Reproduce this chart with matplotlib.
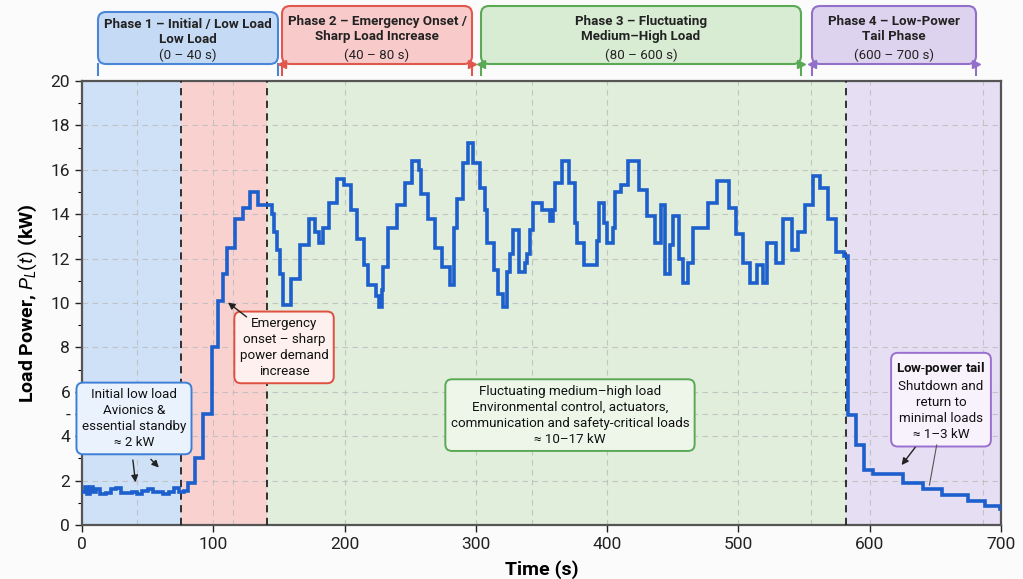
import matplotlib
matplotlib.use("Agg")
import matplotlib.pyplot as plt
from matplotlib import font_manager
from matplotlib.patches import FancyBboxPatch
from matplotlib.transforms import IdentityTransform
import numpy as np

# ---------------- data ----------------
time_s = [0, 2, 4, 6, 8, 11, 14, 18, 22, 26, 30, 34, 38, 42, 46, 50, 54, 58, 62, 66, 70, 74, 78,
          80.7, 86.1, 92.2, 99.0, 103.6, 107.4, 110.4, 116.5, 122.6, 128.0, 134.1, 144.7,
          146.5, 148.5, 150.8, 153.1, 159.2, 166.1, 172.9, 177.5, 180.5, 183.6, 188.1, 194.2,
          199.6, 204.9, 209.5, 214.8, 217.8, 223.9, 226.2, 228.5, 229.3, 233.1, 239.9, 246.0,
          251.4, 256.7, 258.2, 263.5, 268.9, 274.2, 280.3, 283.3, 285.6, 290.2, 294.0, 297.8,
          303.2, 307.0, 308.5, 313.8, 316.9, 320.7, 323.7, 326.0, 328.3, 332.9, 337.4, 339.0,
          341.2, 343.5, 350.4, 356.5, 358.8, 360.3, 365.6, 370.9, 375.5, 377.0, 382.4, 392.3,
          393.8, 397.6, 399.9, 404.5, 406.0, 410.6, 415.9, 424.3, 430.4, 436.5, 441.0, 444.1,
          447.9, 450.2, 454.7, 457.8, 461.6, 465.4, 476.8, 483.7, 492.8, 498.2, 503.5, 508.8,
          514.1, 518.7, 521.8, 528.6, 534.0, 540.8, 545.4, 550.7, 556.8, 562.1, 568.2, 574.3,
          580.4, 583.5, 589.6, 595.6, 602.5, 625.4, 640.6, 655.1, 674.9, 687.8, 699.0, 700.0]
load_kw = [1.5, 1.7, 1.4, 1.7, 1.5, 1.6, 1.4, 1.45, 1.6, 1.65, 1.45, 1.45, 1.5, 1.4, 1.55, 1.6, 1.5, 1.5, 1.4, 1.5, 1.65, 1.5, 1.55,
           1.9, 3.0, 5.0, 8.0, 10.1, 11.3, 12.5, 13.8, 14.3, 15.0, 14.4, 14.0,
           13.2, 12.4, 11.3, 9.9, 11.1, 12.6, 13.8, 13.2, 12.7, 13.4, 14.5, 15.6,
           15.3, 14.2, 12.9, 11.7, 10.8, 10.3, 9.8, 10.6, 11.6, 13.4, 14.4, 15.4,
           16.4, 16.0, 14.9, 13.8, 12.5, 11.6, 10.8, 13.4, 14.7, 16.3, 17.2, 16.3,
           15.2, 14.2, 12.7, 11.5, 10.4, 9.8, 11.4, 12.2, 13.3, 11.4, 11.8, 12.2,
           13.3, 14.5, 14.2, 13.7, 14.2, 15.4, 16.4, 15.4, 13.6, 12.7, 11.7, 12.8,
           14.5, 13.6, 12.7, 13.4, 15.0, 15.3, 16.4, 15.1, 13.9, 12.7, 14.4, 11.3,
           12.6, 13.9, 12.0, 10.9, 11.8, 13.4, 14.5, 15.5, 14.3, 13.1, 11.8, 10.9,
           11.7, 10.9, 12.7, 11.8, 13.8, 12.4, 13.2, 14.4, 15.7, 15.2, 13.8, 12.3,
           12.1, 4.95, 3.6, 2.5, 2.3, 1.9, 1.6, 1.35, 1.1, 0.85, 0.7, 0.7]

phase_edges = [0, 75.4, 141.0, 582.0, 700]
phase_bg = ["#cfe1f7", "#f9d2d0", "#e0eedb", "#e6def2"]
phase_box_fill = ["#c5dbf5", "#f8cbca", "#d8ebd3", "#ded3ef"]
phase_box_edge = ["#4a86d8", "#e0574d", "#5aa955", "#9270c9"]
phase_titles = ["Phase 1 – Initial / Low Load\nLow Load",
                "Phase 2 – Emergency Onset /\nSharp Load Increase",
                "Phase 3 – Fluctuating\nMedium–High Load",
                "Phase 4 – Low-Power\nTail Phase"]
phase_ranges = ["(0 – 40 s)", "(40 – 80 s)", "(80 – 600 s)", "(600 – 700 s)"]

x_ticks = [0, 100, 200, 300, 400, 500, 600, 700]
y_ticks = [0, 2, 4, 5, 6, 8, 10, 12, 14, 16, 18, 20]
y_tick_labels = ["0", "2", "4", "-", "6", "8", "10", "12", "14", "16", "18", "20"]
extra_vgrid = [42, 115, 343, 555, 686]

# ---------------- fonts ----------------
avail = {f.name for f in font_manager.fontManager.ttflist}
base = "Liberation Sans Narrow" if "Liberation Sans Narrow" in avail else "Roboto"
plt.rcParams['font.family'] = [base, 'DejaVu Sans']
plt.rcParams['mathtext.fontset'] = 'custom'
plt.rcParams['mathtext.rm'] = base
plt.rcParams['mathtext.it'] = base + ':italic'
plt.rcParams['mathtext.bf'] = base + ':bold'

W, H = 1023, 579
fig = plt.figure(figsize=(W / 100, H / 100), dpi=100, facecolor="#fbfbfb")
ax = fig.add_axes([82 / W, (H - 525) / H, (1001 - 82) / W, (525 - 81) / H])
ax.set_facecolor("white")

for i in range(4):
    ax.axvspan(phase_edges[i], phase_edges[i + 1], color=phase_bg[i], lw=0, zorder=0)
for e in phase_edges[1:4]:
    ax.axvline(e, color="#222222", ls=(0, (4, 3)), lw=1.3, zorder=3)

ax.set_xlim(0, 700)
ax.set_ylim(0, 20)
ax.set_xticks(x_ticks)
ax.set_yticks(y_ticks)
ax.set_yticklabels(y_tick_labels)
ax.set_yticks(np.arange(1, 20, 2), minor=True)
ax.tick_params(axis="both", labelsize=12.5, colors="#222222", length=5, width=1.0)
ax.tick_params(axis="y", which="minor", length=3, width=0.8)
ax.grid(True, which="major", ls=(0, (5, 4)), color="#bbbbbb", lw=0.8, alpha=0.8, zorder=1)
for g in extra_vgrid:
    ax.axvline(g, ls=(0, (5, 4)), color="#bbbbbb", lw=0.8, alpha=0.8, zorder=1)
ax.set_axisbelow(True)
for s in ax.spines.values():
    s.set_color("#555555")
    s.set_linewidth(1.6)

ax.plot(time_s, load_kw, drawstyle="steps-post", color="#1d5fcc", lw=2.6, zorder=4,
        solid_joinstyle="miter")

ax.set_xlabel("Time (s)", fontsize=14, fontweight="bold", labelpad=6)
ax.set_ylabel(r"Load Power, $P_L(t)$ (kW)", fontsize=14, fontweight="bold", labelpad=8)

# ---------------- annotations ----------------
def box(fc, ec):
    return dict(boxstyle="round,pad=0.4,rounding_size=0.5", fc=fc, ec=ec, lw=1.4)

FS = 9.6
ax.text(39.6, 4.8, "Initial low load\nAvionics &\nessential standby\n≈ 2 kW", ha="center", va="center",
        fontsize=FS, color="#111111", bbox=box("#eaf3fd", "#3d7fd6"), zorder=6, linespacing=1.3)
ax.annotate("", xy=(41, 1.8), xytext=(38.5, 3.05),
            arrowprops=dict(arrowstyle="-|>", color="#222222", lw=1.0, mutation_scale=10), zorder=6)
ax.annotate("", xy=(60, 2.5), xytext=(51, 3.05),
            arrowprops=dict(arrowstyle="-|>", color="#222222", lw=1.0, mutation_scale=10), zorder=6)

ax.text(153.9, 8.0, "Emergency\nonset – sharp\npower demand\nincrease", ha="center", va="center",
        fontsize=FS, color="#111111", bbox=box("#fdf0ee", "#e0503f"), zorder=6, linespacing=1.3)
ax.annotate("", xy=(109.5, 10.1), xytext=(127, 9.3),
            arrowprops=dict(arrowstyle="-|>", color="#222222", lw=1.0, mutation_scale=10), zorder=6)

ax.text(371.7, 4.95, "Fluctuating medium–high load\nEnvironmental control, actuators,\ncommunication and safety-critical loads\n≈ 10–17 kW",
        ha="center", va="center", fontsize=FS, color="#111111", bbox=box("#eef6ea", "#5aa955"),
        zorder=6, linespacing=1.3)

ax.text(654.3, 5.6, r"$\mathbf{Low\text{-}power\ tail}$" + "\nShutdown and\nreturn to\nminimal loads\n≈ 1–3 kW",
        ha="center", va="center",
        fontsize=FS, color="#111111", bbox=box("#f7f2fc", "#9a6fcf"), zorder=6, linespacing=1.3)
ax.annotate("", xy=(623, 2.6), xytext=(636, 3.6),
            arrowprops=dict(arrowstyle="-|>", color="#222222", lw=1.0, mutation_scale=10), zorder=6)
ax.plot([651, 645.5], [3.6, 1.8], color="#555555", lw=0.8, zorder=6)

# ---------------- phase header boxes (figure pixels) ----------------
T = IdentityTransform()
box_px = [(98, 278, 12), (282, 472, 6), (481, 801, 6), (812, 976, 6)]
bottom_px = 64
for i, (x0, x1, top) in enumerate(box_px):
    y0 = H - bottom_px
    y1 = H - top
    p = FancyBboxPatch((x0, y0), x1 - x0, y1 - y0, boxstyle="round,pad=0,rounding_size=8",
                       transform=T, fc=phase_box_fill[i], ec=phase_box_edge[i], lw=1.5, zorder=1)
    fig.patches.append(p)
    for xx in (x0, x1):
        fig.add_artist(plt.Line2D([xx, xx], [H - 75, H - bottom_px], transform=T,
                                  color=phase_box_edge[i], lw=1.5))
    if i > 0:
        for xx, dx in ((x0, -1), (x1, 1)):
            fig.add_artist(plt.Line2D([xx], [H - bottom_px], transform=T, marker=">" if dx > 0 else "<",
                                      color=phase_box_edge[i], ms=6, lw=0))
    cx = (x0 + x1) / 2
    fig.text(cx / W, (H - (top + 20 if i == 0 else top + 23)) / H, phase_titles[i], ha="center", va="center",
             fontsize=9.6, fontweight="bold", color="#222222", linespacing=1.2, zorder=10)
    fig.text(cx / W, (H - 55) / H, phase_ranges[i], ha="center", va="center", fontsize=9.6,
             color="#222222", zorder=10)

fig.savefig("out.png", dpi=100, facecolor=fig.get_facecolor())
